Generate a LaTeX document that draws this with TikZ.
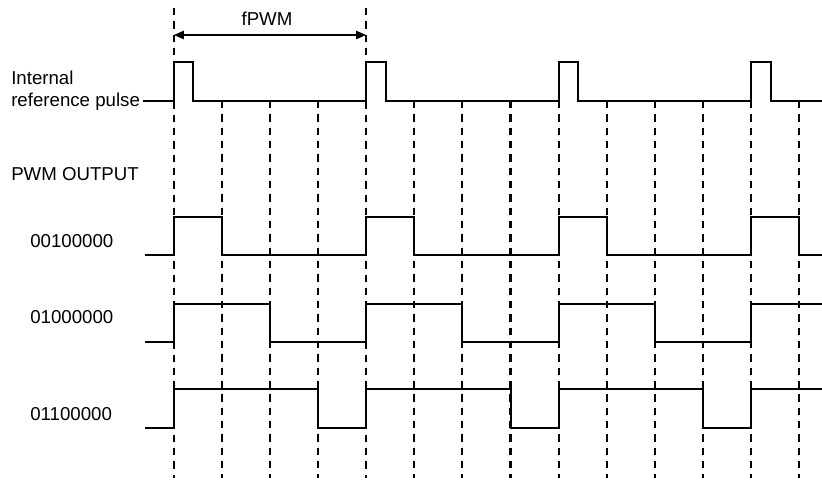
\documentclass[tikz,border=0pt]{standalone}
\usepackage{fontspec}
\setmainfont{Liberation Sans}
\usetikzlibrary{arrows.meta}
\begin{document}
\begin{tikzpicture}[x=0.75pt,y=-0.75pt,
  sig/.style={line width=1.5pt, line join=miter, line cap=butt},
  gridline/.style={line width=1.6pt, dash pattern=on 5.6pt off 4.4pt},
  lbl/.style={font=\fontsize{14}{16}\selectfont, inner sep=0pt, anchor=base west},
  dim/.style={line width=1.5pt, {Triangle[length=7.5pt,width=6pt]}-{Triangle[length=7.5pt,width=6pt]}}]
\useasboundingbox (0,0) rectangle (822,480);
% grid lines
\foreach \k in {0,...,13}{
  \pgfmathsetmacro{\xx}{173.8+48.1*\k}
  \ifnum\k=0 \def\ytop{8}\else\ifnum\k=4 \def\ytop{8}\else\def\ytop{101}\fi\fi
  \draw[gridline] (\xx,\ytop) -- (\xx,478);
}
% fPWM dimension
\coordinate (pa) at (173.8,35);
\coordinate (pb) at (366.2,35);
\draw[dim] (pa) -- (pb);
\node[inner sep=0pt, anchor=base, font=\fontsize{14}{16}\selectfont] (fpwm) at (267,25) {fPWM};
% labels
\node[lbl] (l1) at (11,84) {Internal};
\node[lbl] (l2) at (11,106) {reference pulse};
\node[lbl] (l3) at (11,180) {PWM OUTPUT};
\node[lbl] (l4) at (30,247) {00100000};
\node[lbl] (l5) at (30,323) {01000000};
\node[lbl] (l6) at (30,420) {01100000};
% internal reference pulse
\draw[sig] (143,101) -- (173.8,101) -- (173.8,62) -- (193.3,62) -- (193.3,101)
  -- (366.2,101) -- (366.2,62) -- (385.7,62) -- (385.7,101)
  -- (558.6,101) -- (558.6,62) -- (578.1,62) -- (578.1,101)
  -- (751,101) -- (751,62) -- (770.5,62) -- (770.5,101) -- (822,101);
% 00100000
\draw[sig] (145,255) -- (173.8,255) -- (173.8,217) -- (221.9,217) -- (221.9,255)
  -- (366.2,255) -- (366.2,217) -- (414.3,217) -- (414.3,255)
  -- (558.6,255) -- (558.6,217) -- (606.7,217) -- (606.7,255)
  -- (751,255) -- (751,217) -- (799.1,217) -- (799.1,255) -- (822,255);
% 01000000
\draw[sig] (145,342) -- (173.8,342) -- (173.8,304) -- (270,304) -- (270,342)
  -- (366.2,342) -- (366.2,304) -- (462.4,304) -- (462.4,342)
  -- (558.6,342) -- (558.6,304) -- (654.8,304) -- (654.8,342)
  -- (751,342) -- (751,304) -- (822,304);
% 01100000
\draw[sig] (145,428) -- (173.8,428) -- (173.8,389) -- (318.1,389) -- (318.1,428)
  -- (366.2,428) -- (366.2,389) -- (510.5,389) -- (510.5,428)
  -- (558.6,428) -- (558.6,389) -- (702.9,389) -- (702.9,428)
  -- (751,428) -- (751,389) -- (822,389);
\end{tikzpicture}
\end{document}
